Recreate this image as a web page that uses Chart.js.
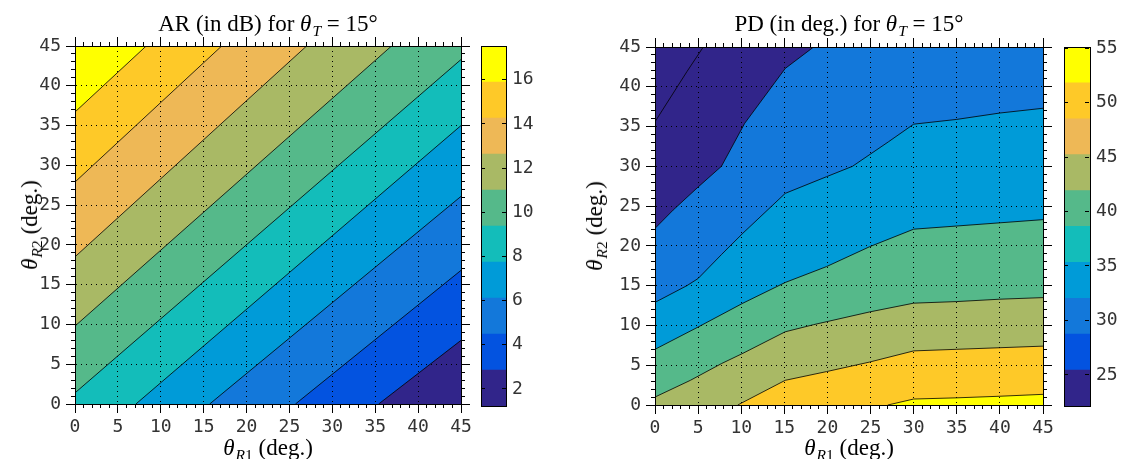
<!DOCTYPE html>
<html>
<head>
<meta charset="utf-8">
<script src="https://cdn.jsdelivr.net/npm/chart.js@4.4.1/dist/chart.umd.min.js"></script>
<style>
  body { margin: 0; background: #fff; }
  #wrap { position: relative; width: 1123px; height: 459px; overflow: hidden; }
  canvas { position: absolute; top: 0; }
  .lbl { position: absolute; font-family: "Liberation Serif", "DejaVu Serif", serif; font-size: 23px; color: #000; white-space: nowrap; line-height: 24px; }
  .lbl sub { font-size: 68%; vertical-align: -0.35em; line-height: 0; margin-left: 1px; }
  .rot { transform: translate(-50%, -50%) rotate(-90deg); }
</style>
</head>
<body>
<div id="wrap">
  <canvas id="arMain" width="480" height="459" style="left:0px"></canvas>
  <canvas id="arBar" width="70" height="459" style="left:470px"></canvas>
  <canvas id="pdMain" width="500" height="459" style="left:560px"></canvas>
  <canvas id="pdBar" width="70" height="459" style="left:1053px"></canvas>

  <div class="lbl" style="left:68px; top:12px; width:400px; text-align:center">AR (in dB) for <i>θ</i><sub><i>T</i></sub> = 15°</div>
  <div class="lbl" style="left:649px; top:12px; width:400px; text-align:center">PD (in deg.) for <i>θ</i><sub><i>T</i></sub> = 15°</div>
  <div class="lbl" style="left:68px; top:436px; width:400px; text-align:center"><i>θ</i><sub><i>R</i>1</sub> (deg.)</div>
  <div class="lbl" style="left:649px; top:436px; width:400px; text-align:center"><i>θ</i><sub><i>R</i>1</sub> (deg.)</div>
  <div class="lbl rot" style="left:30px; top:225px"><i>θ</i><sub><i>R</i>2</sub> (deg.)</div>
  <div class="lbl rot" style="left:595px; top:226px"><i>θ</i><sub><i>R</i>2</sub> (deg.)</div>
</div>
<script>
// tick values
const axisTicks = [0, 5, 10, 15, 20, 25, 30, 35, 40, 45];
const arBarTicks = [2, 4, 6, 8, 10, 12, 14, 16];
const pdBarTicks = [25, 30, 35, 40, 45, 50, 55];

// contour levels (colorbar band edges)
const arLevels = [1.23, 2.86, 4.49, 6.12, 7.75, 9.38, 11.01, 12.64, 14.27, 15.90, 17.53];
const pdLevels = [22.15, 25.45, 28.74, 32.04, 35.33, 38.63, 41.92, 45.22, 48.51, 51.81, 55.10];

// parula-like band colours, low -> high
const bandColors = ['#31258A', '#0353E0', '#1378DA', '#009BD8', '#13BDBA',
                    '#55B98A', '#A9B965', '#EEB856', '#FEC928', '#FFFF00'];

// AR contour lines [thetaR1, thetaR2], top-left first
const arC1 = [[0, 36.7], [8.3, 45]];
const arC2 = [[0, 27.9], [17.1, 45]];
const arC3 = [[0, 18.5], [27.0, 45]];
const arC4 = [[0, 9.8], [36.9, 45]];
const arC5 = [[0, 1.4], [45, 43.3]];
const arC6 = [[7.1, 0], [45, 35.0]];
const arC7 = [[15.7, 0], [45, 26.1]];
const arC8 = [[25.7, 0], [45, 16.8]];
const arC9 = [[35.4, 0], [45, 8.0]];

// PD contour lines, top first
const pdC0 = [[0, 35.6], [3.7, 41.9], [5.6, 45]];
const pdC1 = [[0, 22.2], [2.1, 24.5], [5.0, 27.4], [7.7, 30.0], [10.4, 35.4], [15.1, 42.3], [18.4, 45], [45, 45]];
const pdC2 = [[0, 12.9], [3.7, 15.0], [5.0, 15.9], [7.7, 18.9], [10.2, 21.6], [15.1, 26.6], [19.9, 28.7],
              [22.9, 30.0], [27.1, 33.1], [30.0, 35.3], [35.0, 35.9], [40.0, 36.7], [45, 37.3]];
const pdC3 = [[0, 7.0], [5.0, 9.8], [10.2, 12.8], [15.1, 15.4], [19.9, 17.4], [24.9, 19.9],
              [30.0, 22.1], [35.0, 22.5], [40.0, 22.9], [45, 23.3]];
const pdC4 = [[0, 1.0], [4.1, 3.1], [7.7, 5.2], [10.2, 6.5], [15.1, 9.2], [18.4, 10.1], [24.9, 11.7],
              [30.0, 12.8], [35.0, 13.0], [40.0, 13.3], [45, 13.5]];
const pdC5 = [[9.6, 0], [15.1, 3.1], [19.9, 4.2], [24.9, 5.4], [30.0, 6.8], [35.0, 7.0], [40.0, 7.2], [45, 7.4]];
const pdC6 = [[27.0, 0], [30.0, 0.75], [35.0, 0.9], [40.0, 1.1], [45, 1.34]];

const tickFont = { family: '"DejaVu Sans Mono", monospace', size: 18 };
const tickColor = '#333';

// fills the plot area with the band that sits behind all contour fills
const areaBg = {
  id: 'areaBg',
  beforeDraw(chart, args, opts) {
    const a = chart.chartArea;
    chart.ctx.save();
    chart.ctx.fillStyle = opts.color;
    chart.ctx.fillRect(a.left, a.top, a.right - a.left, a.bottom - a.top);
    chart.ctx.restore();
  }
};

function contour(pts, fill, color) {
  return {
    data: pts.map(p => ({ x: p[0], y: p[1] })),
    showLine: true,
    borderColor: '#000',
    borderWidth: 0.8,
    pointRadius: 0,
    fill: fill,
    backgroundColor: color
  };
}

function axisPair(id, axis, position, size, labels, grid) {
  const setSize = s => { if (axis === 'x') s.height = size; else s.width = size; };
  const major = {
    type: 'linear', axis: axis, position: position, min: 0, max: 45, weight: 1,
    afterBuildTicks: s => { s.ticks = axisTicks.map(v => ({ value: v })); },
    afterFit: setSize,
    ticks: { display: labels, font: tickFont, color: tickColor, padding: labels && axis === 'x' ? 4 : 5, maxRotation: 0, autoSkip: false },
    grid: { drawOnChartArea: grid, color: '#000', lineWidth: 1, tickLength: 9, tickColor: '#000', tickBorderDash: [], z: 1 },
    border: { display: true, color: '#000', width: 1, dash: [1, 4], z: 1 }
  };
  const minor = {
    type: 'linear', axis: axis, position: position, min: 0, max: 45, weight: 0,
    ticks: { display: false, stepSize: 1, autoSkip: false },
    afterFit: s => { if (axis === 'x') s.height = 0; else s.width = 0; },
    grid: { drawOnChartArea: false, color: '#000', tickLength: 4, tickColor: '#000', tickBorderDash: [], z: 1 },
    border: { display: false }
  };
  const out = {};
  out[id] = major;
  out[id + 'm'] = minor;
  return out;
}

function mainChart(el, datasets, bg, box) {
  const scales = Object.assign({},
    axisPair('x', 'x', 'bottom', box.bottom, true, true),
    axisPair('y', 'y', 'left', box.left, true, true),
    axisPair('xt', 'x', 'top', box.top, false, false),
    axisPair('yr', 'y', 'right', box.right, false, false));
  return new Chart(el, {
    type: 'scatter',
    data: { datasets: datasets },
    options: {
      responsive: false,
      animation: false,
      layout: { padding: 0 },
      scales: scales,
      plugins: {
        legend: { display: false },
        tooltip: { enabled: false },
        filler: { drawTime: 'beforeDatasetsDraw' },
        areaBg: { color: bg }
      }
    },
    plugins: [areaBg]
  });
}

function colorBar(el, levels, ticks, box) {
  const datasets = bandColors.map((c, i) => ({
    data: [[levels[i], levels[i + 1]]],
    backgroundColor: c,
    borderWidth: 0,
    barPercentage: 1,
    categoryPercentage: 1,
    grouped: false
  }));
  const edge = (axis, position, size) => ({
    axis: axis, position: position,
    afterFit: s => { if (axis === 'x') s.height = size; else s.width = size; },
    ticks: { display: false },
    grid: { display: false },
    border: { display: true, color: '#000', width: 1, z: 1 }
  });
  return new Chart(el, {
    type: 'bar',
    data: { labels: [''], datasets: datasets },
    options: {
      responsive: false,
      animation: false,
      layout: { padding: 0 },
      scales: {
        x: Object.assign(edge('x', 'bottom', box.bottom), { type: 'category' }),
        xt: Object.assign(edge('x', 'top', box.top), { type: 'category', labels: [''] }),
        yl: Object.assign(edge('y', 'left', box.left), { type: 'linear', min: levels[0], max: levels[levels.length - 1] }),
        y: {
          type: 'linear', position: 'right',
          min: levels[0], max: levels[levels.length - 1],
          afterBuildTicks: s => { s.ticks = ticks.map(v => ({ value: v })); },
          afterFit: s => { s.width = box.right; },
          ticks: { font: tickFont, color: tickColor, padding: 6 },
          grid: { drawTicks: false, color: '#000', lineWidth: 1, z: 1 },
          border: { display: true, color: '#000', width: 1, dash: [4, 17], z: 1 }
        }
      },
      plugins: { legend: { display: false }, tooltip: { enabled: false } }
    }
  });
}

// AR: background is the band between arC5 and arC6; fills above arC5.. and below arC6..
mainChart(document.getElementById('arMain'), [
  contour(arC1, 'end', bandColors[9]),
  contour(arC2, 'end', bandColors[8]),
  contour(arC3, 'end', bandColors[7]),
  contour(arC4, 'end', bandColors[6]),
  contour(arC5, 'end', bandColors[5]),
  contour(arC9, 'start', bandColors[0]),
  contour(arC8, 'start', bandColors[1]),
  contour(arC7, 'start', bandColors[2]),
  contour(arC6, 'start', bandColors[3])
], bandColors[4], { left: 75, right: 19, top: 46, bottom: 55 });

// PD: top-left is the lowest band, each line fills below it
mainChart(document.getElementById('pdMain'), [
  contour(pdC0, false, bandColors[0]),
  contour(pdC6, 'start', bandColors[9]),
  contour(pdC5, 'start', bandColors[8]),
  contour(pdC4, 'start', bandColors[6]),
  contour(pdC3, 'start', bandColors[5]),
  contour(pdC2, 'start', bandColors[3]),
  contour(pdC1, 'start', bandColors[2])
], bandColors[0], { left: 95, right: 17, top: 47, bottom: 54 });

colorBar(document.getElementById('arBar'), arLevels, arBarTicks, { left: 11, right: 34, top: 46, bottom: 53 });
colorBar(document.getElementById('pdBar'), pdLevels, pdBarTicks, { left: 11, right: 33, top: 47, bottom: 53 });
</script>
</body>
</html>
